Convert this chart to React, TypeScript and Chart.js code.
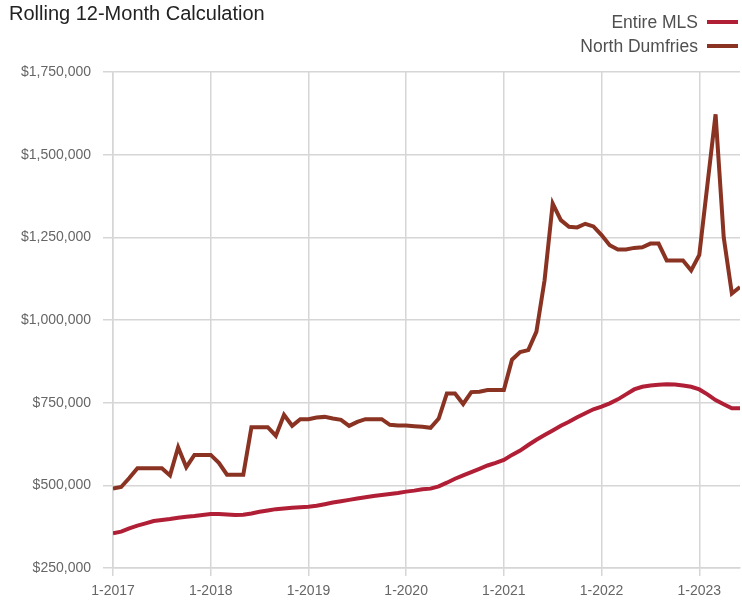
import React, { useEffect, useRef } from "react";
import { Chart, registerables } from "chart.js";

Chart.register(...registerables);

const subtitle = "Rolling 12-Month Calculation";
const seriesNames = ["Entire MLS", "North Dumfries"];
const seriesColors = ["#b11f36", "#8a3322"];

// one x tick label per January (month index 0, 12, 24, ...)
const tickLabels = ["1-2017", "1-2018", "1-2019", "1-2020", "1-2021", "1-2022", "1-2023"];

// monthly values, Jan 2017 .. Jun 2023 (thousands of dollars)
const entireMls = [
  355, 360, 370, 378, 385, 392, 395, 398, 402, 405, 407, 410,
  413, 413, 412, 410, 411, 415, 420, 424, 428, 430, 432, 434,
  435, 438, 443, 448, 452, 456, 460, 464, 468, 471, 474, 477,
  481, 484, 488, 490, 497, 508, 520, 530, 540, 550, 560, 568,
  577, 592, 605, 622, 638, 652, 666, 680, 692, 706, 718, 730,
  738, 748, 760, 775, 790, 798, 802, 804, 806, 805, 802, 798,
  790, 775, 758, 745, 733, 733,
];

const northDumfries = [
  490, 495, 522, 552, 552, 552, 552, 530, 615, 555, 592, 592,
  592, 568, 532, 532, 532, 676, 676, 676, 650, 713, 680, 700,
  700, 705, 707, 702, 698, 680, 692, 700, 700, 700, 683, 681,
  681, 679, 677, 674, 702, 778, 778, 746, 782, 783, 788, 788,
  788, 880, 903, 909, 965, 1120, 1352, 1302, 1282, 1280, 1291, 1283,
  1257, 1226, 1213, 1213, 1218, 1220, 1231, 1231, 1180, 1180, 1180, 1150,
  1197, 1410, 1622, 1250, 1080, 1100,
];

const yMin = 250000;
const yMax = 1750000;
const yStep = 250000;

const toPoints = (vals: number[]) => vals.map((v, i) => ({ x: i, y: v * 1000 }));

const FONT = "'Liberation Sans', Arial, sans-serif";

export default function App() {
  const ref = useRef<HTMLCanvasElement | null>(null);

  useEffect(() => {
    if (!ref.current) return;
    const grid = "#d6d6d6";
    const chart = new Chart(ref.current, {
      type: "line",
      data: {
        datasets: [
          {
            label: seriesNames[0],
            data: toPoints(entireMls),
            borderColor: seriesColors[0],
            backgroundColor: seriesColors[0],
            borderWidth: 4,
            pointRadius: 0,
            tension: 0,
          },
          {
            label: seriesNames[1],
            data: toPoints(northDumfries),
            borderColor: seriesColors[1],
            backgroundColor: seriesColors[1],
            borderWidth: 4,
            pointRadius: 0,
            tension: 0,
          },
        ],
      },
      options: {
        responsive: false,
        animation: false,
        devicePixelRatio: 1,
        layout: { padding: { top: 72, right: 2, left: 0, bottom: 0 } },
        plugins: {
          legend: { display: false },
          title: { display: false },
          tooltip: { enabled: false },
        },
        scales: {
          x: {
            type: "linear",
            min: 0,
            max: entireMls.length - 1,
            afterBuildTicks: (scale: any) => {
              scale.ticks = scale.ticks.filter((t: any) => t.value % 12 === 0);
            },
            afterFit: (scale: any) => {
              scale.height = 35;
            },
            ticks: {
              stepSize: 12,
              autoSkip: false,
              maxRotation: 0,
              padding: 7,
              color: "#666",
              font: { family: FONT, size: 14 },
              callback: (v: any) => tickLabels[Math.round(Number(v) / 12)] ?? "",
            },
            grid: { color: grid, lineWidth: 1.5, tickLength: 8, drawTicks: true },
            border: { display: true, color: grid, width: 1.5 },
          },
          y: {
            type: "linear",
            min: yMin,
            max: yMax,
            afterFit: (scale: any) => {
              scale.width = 113;
            },
            ticks: {
              stepSize: yStep,
              padding: 12,
              color: "#666",
              font: { family: FONT, size: 14 },
              callback: (v: any) => "$" + Number(v).toLocaleString("en-US"),
            },
            grid: { color: grid, lineWidth: 1.5, tickLength: 10 },
            border: { display: true, color: grid, width: 1.5 },
          },
        },
      },
    });
    return () => chart.destroy();
  }, []);

  const legendRow = (name: string, color: string, top: number) => (
    <div
      key={name}
      style={{
        position: "absolute",
        right: 4,
        top,
        display: "flex",
        alignItems: "center",
        fontFamily: FONT,
        fontSize: 17.5,
        color: "#505050",
        lineHeight: "20px",
        whiteSpace: "nowrap",
      }}
    >
      <span>{name}</span>
      <span
        style={{
          display: "inline-block",
          width: 31,
          height: 4,
          background: color,
          marginLeft: 9,
        }}
      />
    </div>
  );

  return (
    <div
      style={{
        position: "fixed",
        left: 0,
        top: 0,
        width: 742,
        height: 603,
        background: "#fff",
        overflow: "hidden",
      }}
    >
      <canvas ref={ref} width={742} height={603} style={{ position: "absolute", left: 0, top: 0 }} />
      <div
        style={{
          position: "absolute",
          left: 9,
          top: 3,
          fontFamily: FONT,
          fontSize: 20,
          lineHeight: "20px",
          color: "#222",
          whiteSpace: "nowrap",
        }}
      >
        {subtitle}
      </div>
      {legendRow(seriesNames[0], seriesColors[0], 12)}
      {legendRow(seriesNames[1], seriesColors[1], 36)}
    </div>
  );
}
